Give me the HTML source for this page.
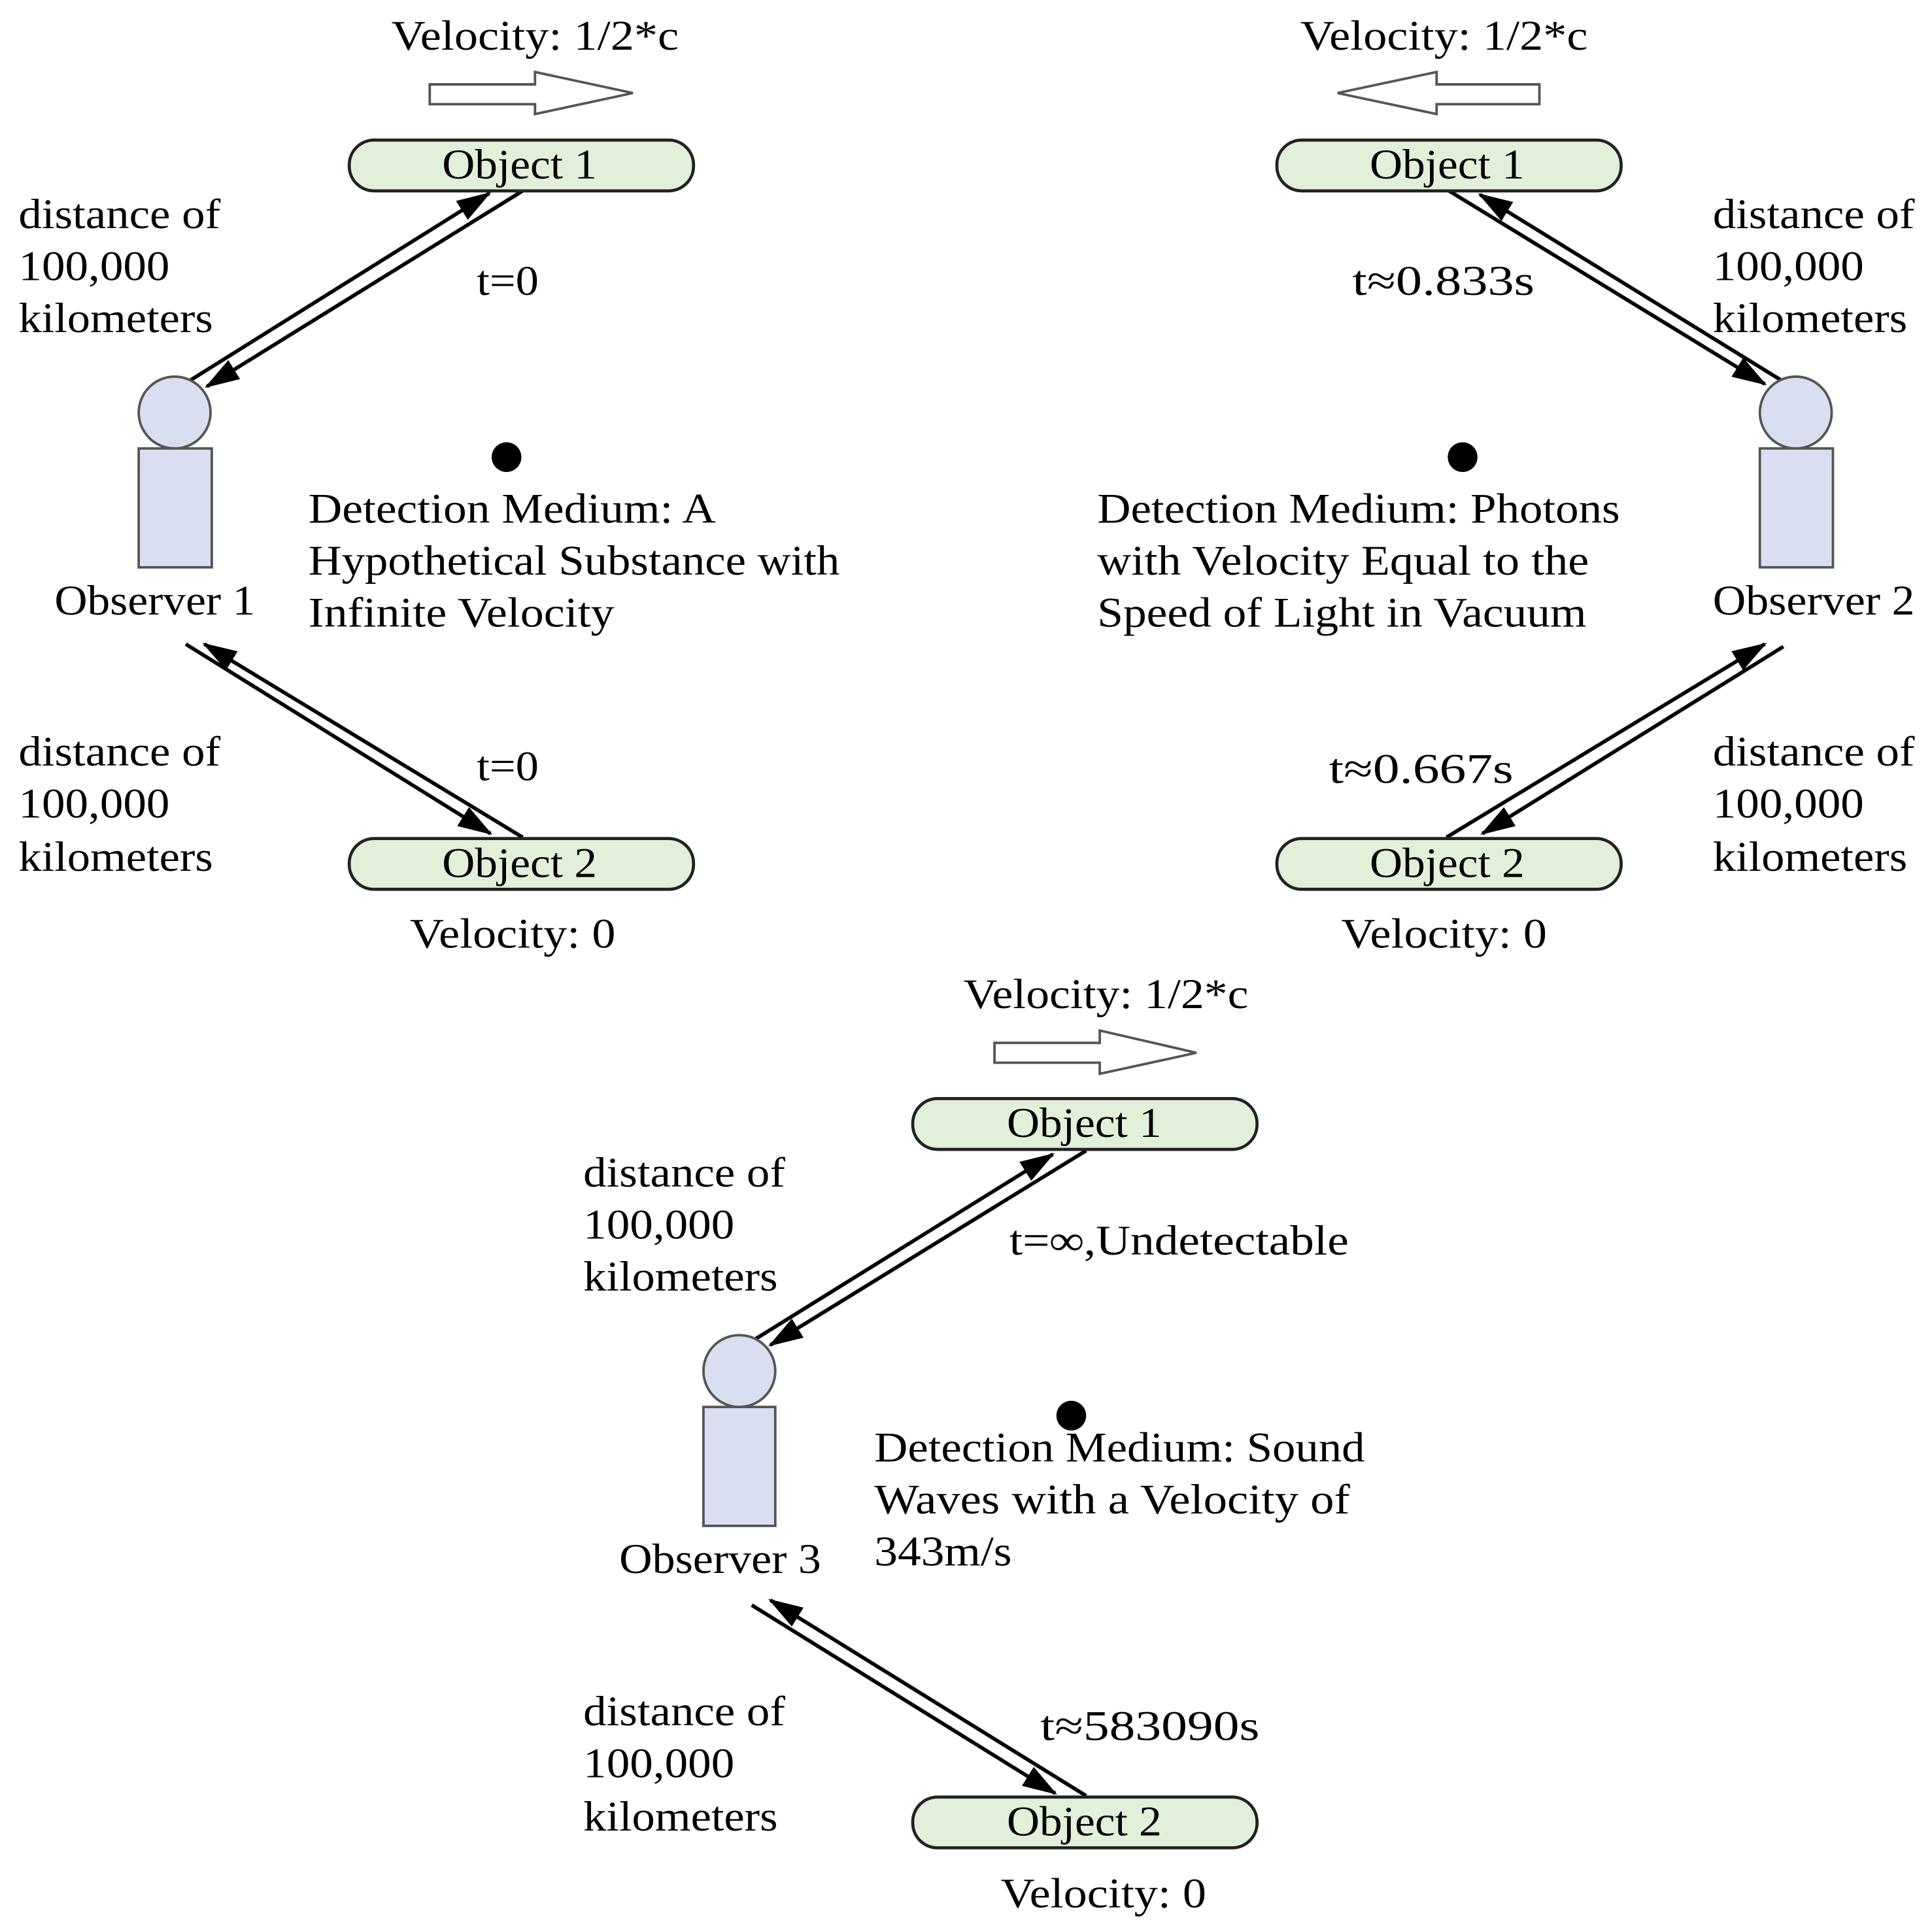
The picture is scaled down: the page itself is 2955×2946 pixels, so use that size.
<!DOCTYPE html>
<html><head><meta charset="utf-8"><style>
html,body{margin:0;padding:0;background:#fff;}
svg{display:block;}
text{font-family:"Liberation Serif",serif;font-size:34px;fill:#000;}
</style></head><body>
<svg width="2955" height="2946" viewBox="0 0 1560 1555" xmlns="http://www.w3.org/2000/svg">
<defs>
<marker id="ah" markerUnits="userSpaceOnUse" markerWidth="30" markerHeight="20" refX="26" refY="9" orient="auto">
<path d="M0,0 L28,9 L0,18 Z" fill="#000"/>
</marker>
</defs>
<g stroke="#000" stroke-width="3" fill="none">
<line x1="152" y1="308" x2="395" y2="156" marker-end="url(#ah)"/>
<line x1="422" y1="154" x2="167" y2="312" marker-end="url(#ah)"/>
<line x1="150" y1="520" x2="396" y2="673" marker-end="url(#ah)"/>
<line x1="422" y1="676" x2="165" y2="520" marker-end="url(#ah)"/>
<line x1="1170" y1="154" x2="1425" y2="310" marker-end="url(#ah)"/>
<line x1="1440" y1="308" x2="1195" y2="157" marker-end="url(#ah)"/>
<line x1="1168" y1="676" x2="1425" y2="520" marker-end="url(#ah)"/>
<line x1="1440" y1="522" x2="1197" y2="673" marker-end="url(#ah)"/>
<line x1="607" y1="1083" x2="850" y2="932" marker-end="url(#ah)"/>
<line x1="877" y1="929" x2="622" y2="1086" marker-end="url(#ah)"/>
<line x1="607" y1="1296" x2="852" y2="1448" marker-end="url(#ah)"/>
<line x1="877" y1="1450" x2="622" y2="1292" marker-end="url(#ah)"/>
</g>
<g fill="#fff" stroke="#555" stroke-width="2">
<path d="M347,68 H432 V58 L511,75 L432,92 V84 H347 Z"/>
<path d="M1243,68 H1160 V58 L1080,75 L1160,92 V84 H1243 Z"/>
<path d="M803,842 H888 V832 L966,850 L888,867 V858 H803 Z"/>
</g>
<g fill="#e2efd9" stroke="#222" stroke-width="2.5">
<rect x="282" y="113" width="278" height="41" rx="20"/>
<rect x="282" y="677" width="278" height="41" rx="20"/>
<rect x="1031" y="113" width="278" height="41" rx="20"/>
<rect x="1031" y="677" width="278" height="41" rx="20"/>
<rect x="737" y="887" width="278" height="41" rx="20"/>
<rect x="737" y="1451" width="278" height="41" rx="20"/>
</g>
<g fill="#d9dff1" stroke="#555" stroke-width="2">
<circle cx="141" cy="333" r="29"/><rect x="112" y="362" width="59" height="96"/>
<circle cx="1450" cy="333" r="29"/><rect x="1421" y="362" width="59" height="96"/>
<circle cx="597" cy="1107" r="29"/><rect x="568" y="1136" width="58" height="96"/>
</g>
<g fill="#000">
<circle cx="409" cy="369" r="12"/>
<circle cx="1181" cy="369" r="12"/>
<circle cx="865" cy="1143" r="12"/>
</g>
<text x="316" y="40" textLength="232" lengthAdjust="spacingAndGlyphs">Velocity: 1/2*c</text>
<text x="357" y="144" textLength="125" lengthAdjust="spacingAndGlyphs">Object 1</text>
<text x="357" y="708" textLength="125" lengthAdjust="spacingAndGlyphs">Object 2</text>
<text x="15" y="184" textLength="163" lengthAdjust="spacingAndGlyphs">distance of</text>
<text x="15" y="226" textLength="122" lengthAdjust="spacingAndGlyphs">100,000</text>
<text x="15" y="268" textLength="157" lengthAdjust="spacingAndGlyphs">kilometers</text>
<text x="385" y="238" textLength="50" lengthAdjust="spacingAndGlyphs">t=0</text>
<text x="44" y="496" textLength="162" lengthAdjust="spacingAndGlyphs">Observer 1</text>
<text x="249" y="422" textLength="329" lengthAdjust="spacingAndGlyphs">Detection Medium: A</text>
<text x="249" y="464" textLength="429" lengthAdjust="spacingAndGlyphs">Hypothetical Substance with</text>
<text x="249" y="506" textLength="247" lengthAdjust="spacingAndGlyphs">Infinite Velocity</text>
<text x="15" y="618" textLength="163" lengthAdjust="spacingAndGlyphs">distance of</text>
<text x="15" y="660" textLength="122" lengthAdjust="spacingAndGlyphs">100,000</text>
<text x="15" y="703" textLength="157" lengthAdjust="spacingAndGlyphs">kilometers</text>
<text x="385" y="630" textLength="50" lengthAdjust="spacingAndGlyphs">t=0</text>
<text x="331" y="765" textLength="166" lengthAdjust="spacingAndGlyphs">Velocity: 0</text>
<text x="1050" y="40" textLength="232" lengthAdjust="spacingAndGlyphs">Velocity: 1/2*c</text>
<text x="1106" y="144" textLength="125" lengthAdjust="spacingAndGlyphs">Object 1</text>
<text x="1106" y="708" textLength="125" lengthAdjust="spacingAndGlyphs">Object 2</text>
<text x="1383" y="184" textLength="163" lengthAdjust="spacingAndGlyphs">distance of</text>
<text x="1383" y="226" textLength="122" lengthAdjust="spacingAndGlyphs">100,000</text>
<text x="1383" y="268" textLength="157" lengthAdjust="spacingAndGlyphs">kilometers</text>
<text x="1092" y="238" textLength="147" lengthAdjust="spacingAndGlyphs">t≈0.833s</text>
<text x="1383" y="496" textLength="163" lengthAdjust="spacingAndGlyphs">Observer 2</text>
<text x="886" y="422" textLength="422" lengthAdjust="spacingAndGlyphs">Detection Medium: Photons</text>
<text x="886" y="464" textLength="397" lengthAdjust="spacingAndGlyphs">with Velocity Equal to the</text>
<text x="886" y="506" textLength="395" lengthAdjust="spacingAndGlyphs">Speed of Light in Vacuum</text>
<text x="1383" y="618" textLength="163" lengthAdjust="spacingAndGlyphs">distance of</text>
<text x="1383" y="660" textLength="122" lengthAdjust="spacingAndGlyphs">100,000</text>
<text x="1383" y="703" textLength="157" lengthAdjust="spacingAndGlyphs">kilometers</text>
<text x="1073" y="632" textLength="149" lengthAdjust="spacingAndGlyphs">t≈0.667s</text>
<text x="1083" y="765" textLength="166" lengthAdjust="spacingAndGlyphs">Velocity: 0</text>
<text x="778" y="814" textLength="230" lengthAdjust="spacingAndGlyphs">Velocity: 1/2*c</text>
<text x="813" y="918" textLength="125" lengthAdjust="spacingAndGlyphs">Object 1</text>
<text x="813" y="1482" textLength="125" lengthAdjust="spacingAndGlyphs">Object 2</text>
<text x="471" y="958" textLength="163" lengthAdjust="spacingAndGlyphs">distance of</text>
<text x="471" y="1000" textLength="122" lengthAdjust="spacingAndGlyphs">100,000</text>
<text x="471" y="1042" textLength="157" lengthAdjust="spacingAndGlyphs">kilometers</text>
<text x="815" y="1013" textLength="274" lengthAdjust="spacingAndGlyphs">t=<tspan font-weight="bold">∞</tspan>,Undetectable</text>
<text x="500" y="1270" textLength="163" lengthAdjust="spacingAndGlyphs">Observer 3</text>
<text x="706" y="1180" textLength="396" lengthAdjust="spacingAndGlyphs">Detection Medium: Sound</text>
<text x="706" y="1222" textLength="384" lengthAdjust="spacingAndGlyphs">Waves with a Velocity of</text>
<text x="706" y="1264" textLength="111" lengthAdjust="spacingAndGlyphs">343m/s</text>
<text x="471" y="1393" textLength="163" lengthAdjust="spacingAndGlyphs">distance of</text>
<text x="471" y="1435" textLength="122" lengthAdjust="spacingAndGlyphs">100,000</text>
<text x="471" y="1478" textLength="157" lengthAdjust="spacingAndGlyphs">kilometers</text>
<text x="840" y="1405" textLength="177" lengthAdjust="spacingAndGlyphs">t≈583090s</text>
<text x="808" y="1540" textLength="166" lengthAdjust="spacingAndGlyphs">Velocity: 0</text>
</svg>
</body></html>
